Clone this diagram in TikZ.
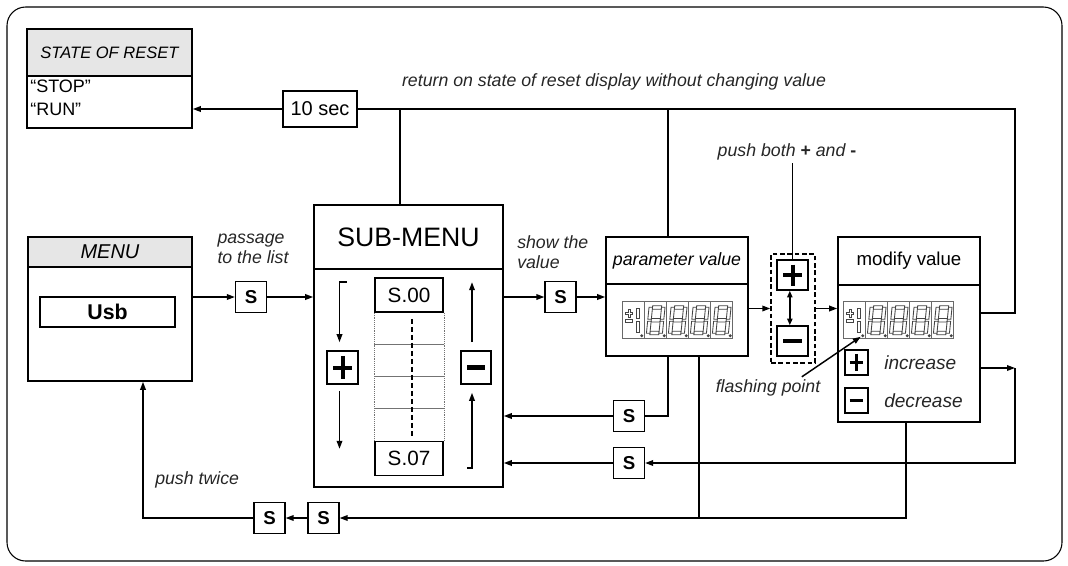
\documentclass[tikz,border=0pt]{standalone}
\usepackage{fontspec}
\setmainfont{Liberation Sans}
\usetikzlibrary{calc,arrows.meta}
\definecolor{headbg}{HTML}{e6e6e6}
\definecolor{lcdgray}{HTML}{444444}

\tikzset{
  box/.style={draw, line width=1.2pt, fill=white, inner sep=0pt},
  head/.style={box, anchor=north},
  sbox/.style={box, minimum width=23pt, minimum height=23pt, font=\fontsize{14}{16}\selectfont\bfseries},
  line/.style={line width=1.1pt},
  arr/.style={line, -{Triangle[length=6pt,width=4.2pt]}},
  note/.style={inner sep=0pt, text=black!85, font=\fontsize{13.3}{15}\selectfont\itshape},
  plusbtn/.style={box, path picture={
    \draw[line width=#1]
      ($(path picture bounding box.west)!.2!(path picture bounding box.east)$) --
      ($(path picture bounding box.west)!.8!(path picture bounding box.east)$)
      ($(path picture bounding box.north)!.15!(path picture bounding box.south)$) --
      ($(path picture bounding box.north)!.85!(path picture bounding box.south)$);}},
  minusbtn/.style={box, path picture={
    \draw[line width=#1]
      ($(path picture bounding box.west)!.2!(path picture bounding box.east)$) --
      ($(path picture bounding box.west)!.8!(path picture bounding box.east)$);}},
  seg/.style={draw=lcdgray, line width=0.65pt, fill=white},
  cell/.style={draw=lcdgray!80, line width=0.8pt},
  pics/signcell/.style={code={
    \draw[cell] (-11,-18.5) rectangle (11,18.5);
    \draw[seg] (-5.5,-11) -- (-3.5,-11) -- (-3.5,-8) -- (-1,-8) -- (-1,-6) -- (-3.5,-6)
      -- (-3.5,-3) -- (-5.5,-3) -- (-5.5,-6) -- (-8,-6) -- (-8,-8) -- (-5.5,-8) -- cycle;
    \draw[seg] (-8,-0.5) rectangle (-1,2);
    \draw[seg] (3,-12) rectangle (6,-1.5);
    \draw[seg] (3,1.5) rectangle (6,12);
    \fill[lcdgray] (8,15.5) circle (1.7);
  }},
  pics/digitcell/.style={code={
    \draw[cell] (-11,-18.5) rectangle (11,18.5);
    \begin{scope}[xslant=0.1]
      \foreach \yy in {-14.5,-1.75,11}
        \draw[seg] (-4.5,\yy) rectangle (4.5,\yy+3.5);
      \foreach \xx in {-8,4.5}
        \foreach \yy in {-13,1}
          \draw[seg] (\xx,\yy) rectangle (\xx+3.5,\yy+12);
    \end{scope}
    \fill[lcdgray] (8.5,15.5) circle (1.7);
  }},
  pics/lcd/.style={code={
    \pic at (11,18.5) {signcell};
    \foreach \c in {1,...,4}
      \pic at ({22*\c+11},18.5) {digitcell};
  }}
}

\begin{document}
\begin{tikzpicture}[x=0.75pt, y=-0.75pt]
  \useasboundingbox (0,0) rectangle (1068,565);
  \draw[line width=0.8pt, rounded corners=14pt] (7,7) rectangle (1062,561);

  % State of reset
  \node[box, minimum width=123.75pt, minimum height=74.25pt] (state) at (109.5,78.5) {};
  \node[head, fill=headbg, minimum width=123.75pt, minimum height=35.25pt,
        font=\fontsize{12.4}{14}\selectfont\itshape] (stateh) at (state.north) {STATE OF RESET};
  \node[anchor=west, align=left, inner sep=0pt, font=\fontsize{13.5}{17}\selectfont] (runstop)
        at (30,98) {``STOP''\\``RUN''};
  \node[box, minimum width=55.5pt, minimum height=27pt, font=\fontsize{15}{17}\selectfont] (tensec)
        at (320,109) {10 sec};

  % Menu
  \node[box, minimum width=123pt, minimum height=108pt] (menu) at (110,309) {};
  \node[head, fill=headbg, minimum width=123pt, minimum height=22.5pt,
        font=\fontsize{15}{17}\selectfont\itshape] (menuh) at (menu.north) {MENU};
  \node[box, minimum width=101.25pt, minimum height=22.5pt, font=\fontsize{16}{18}\selectfont\bfseries]
        (usb) at (107.5,312) {Usb};

  % Sub-menu
  \node[box, minimum width=141.75pt, minimum height=211.5pt] (submenu) at (408.5,346) {};
  \node[head, minimum width=141.75pt, minimum height=48pt,
        font=\fontsize{20}{22}\selectfont] (submenuh) at (submenu.north) {SUB-MENU};
  \node[box, minimum width=51pt, minimum height=25.5pt, font=\fontsize{15.5}{17}\selectfont]
        (s00) at (409,295) {S.00};
  \node[box, minimum width=51pt, minimum height=25.5pt, font=\fontsize{15.5}{17}\selectfont]
        (s07) at (409,458.5) {S.07};
  \draw[black!55, densely dotted] (s00.south west) -- (s07.north west)
                                  (s00.south east) -- (s07.north east);
  \foreach \k in {1,2,3}
    \draw[black!55, line width=0.6pt] ($(s00.south west)!\k/4!(s07.north west)$)
                                   -- ($(s00.south east)!\k/4!(s07.north east)$);
  \draw[line, dash pattern=on 4pt off 2pt] ([shift={(3,6)}]s00.south) -- ([shift={(3,-5)}]s07.north);
  \node[plusbtn=3pt, minimum width=23.25pt, minimum height=24.75pt] (splus) at (342.5,367.5) {};
  \node[minusbtn=3.2pt, minimum width=22.5pt, minimum height=24.75pt] (sminus) at (476,367.5) {};
  \draw[arr] ([shift={(4,-68)}]splus.north) -- ++(-7,0) -- ([shift={(-3,-8)}]splus.north);
  \draw[arr] ([shift={(-3,6)}]splus.south) -- ([shift={(-3,64)}]splus.south);
  \draw[arr] ([shift={(-9,83)}]sminus.south) -- ++(5,0) -- ([shift={(-4,8)}]sminus.south);
  \draw[arr] ([shift={(-4,-8)}]sminus.north) -- ([shift={(-4,-68)}]sminus.north);

  % Parameter value
  \node[box, minimum width=106.5pt, minimum height=89.25pt] (param) at (677,296.5) {};
  \node[head, minimum width=106.5pt, minimum height=35.25pt,
        font=\fontsize{13.3}{15}\selectfont\itshape] (paramh) at (param.north) {parameter value};
  \node[inner sep=0pt, minimum width=82.5pt, minimum height=27.75pt] (pdisp) at (678,320.5) {};
  \pic at (pdisp.north west) {lcd};

  % Push both
  \node[draw, line width=1.1pt, dash pattern=on 3.5pt off 2pt, minimum width=33pt, minimum height=81.75pt]
        (both) at (793,308.5) {};
  \node[plusbtn=3pt, minimum width=23.25pt, minimum height=22.5pt] (bplus) at (792.5,275) {};
  \node[minusbtn=3.2pt, minimum width=23.25pt, minimum height=22.5pt] (bminus) at (792.5,341) {};
  \draw[line, {Triangle[length=5pt,width=4pt]}-{Triangle[length=5pt,width=4pt]}]
        ([xshift=-2pt]bplus.south) -- ([xshift=-2pt]bminus.north);
  \node[note] (pushboth) at (787,152) {push both {\upshape\bfseries +} and {\upshape\bfseries -}};
  \draw[line] (bplus.north |- 0,163) -- (bplus.north);

  % Modify value
  \node[box, minimum width=106.5pt, minimum height=138.75pt] (modify) at (909,329.5) {};
  \node[head, minimum width=106.5pt, minimum height=36pt,
        font=\fontsize{14}{16}\selectfont] (modifyh) at (modify.north) {modify value};
  \node[inner sep=0pt, minimum width=82.5pt, minimum height=27.75pt] (mdisp) at (899,320.5) {};
  \pic at (mdisp.north west) {lcd};
  \node[plusbtn=2.4pt, minimum width=17.25pt, minimum height=18.75pt] (mplus) at (856.5,362.5) {};
  \node[minusbtn=2.6pt, minimum width=17.25pt, minimum height=18.75pt] (mminus) at (856.5,400.5) {};
  \node[note, anchor=west, font=\fontsize{14.3}{16}\selectfont\itshape] (incr) at (884,362.5) {increase};
  \node[note, anchor=west, font=\fontsize{14.3}{16}\selectfont\itshape] (decr) at (884,400.5) {decrease};
  \coordinate (fp) at ($(mdisp.north west)+(17,35)$);
  \node[note] (flash) at (768,388) {flashing point};
  \draw[line, -{Triangle[length=6pt,width=4.2pt]}] ([xshift=-14pt,yshift=2pt]flash.north east) -- (fp);

  % S keys
  \node[sbox] (s1) at (251,297) {S};
  \node[sbox] (s2) at (560.5,297) {S};
  \node[sbox] (s3) at (629,416) {S};
  \node[sbox] (s4) at (629,463) {S};
  \node[sbox] (s5) at (269.5,518) {S};
  \node[sbox] (s6) at (323.5,518) {S};

  % labels
  \node[note, align=left] (passage) at (253,249) {passage\\to the list};
  \node[note, align=left, anchor=west] (showval) at (517,252) {show the\\value};
  \node[note, anchor=west] (twice) at (155,480) {push twice};
  \node[note] (retval) at (614,82) {return on state of reset display without changing value};

  % main flow
  \draw[arr] (menu.east |- s1.west) -- (s1.west);
  \draw[arr] (s1.east) -- (submenu.west |- s1.east);
  \draw[arr] (submenu.east |- s2.west) -- (s2.west);
  \draw[arr] (s2.east) -- (param.west |- s2.east);
  \draw[arr] (param.east |- both.west) -- (both.west);
  \draw[arr] (both.east) -- (modify.west |- both.east);

  % return to state of reset
  \coordinate (rtop) at (1015,109);
  \coordinate (rmid) at (1015,368);
  \draw[line] (modify.east |- 0,313) -| (rtop) -- (tensec.east);
  \draw[line] (668,0 |- param.north) -- (668,109);
  \draw[line] (400,0 |- submenu.north) -- (400,109);
  \draw[arr] (tensec.west) -- (state.east |- tensec.west);

  % back to sub-menu
  \draw[line] (668,0 |- param.south) |- (s3.east);
  \draw[arr] (s3.west) -- (submenu.east |- s3.west);
  \draw[arr] (modify.east |- rmid) -- (rmid);
  \draw[arr] (rmid) |- (s4.east);
  \draw[arr] (s4.west) -- (submenu.east |- s4.west);

  % back to menu
  \draw[line] (699,0 |- param.south) -- (699,518);
  \draw[arr] (906,0 |- modify.south) |- (s6.east);
  \draw[arr] (s6.west) -- (s5.east);
  \draw[arr] (s5.west) -| (143,0 |- menu.south);
\end{tikzpicture}
\end{document}
